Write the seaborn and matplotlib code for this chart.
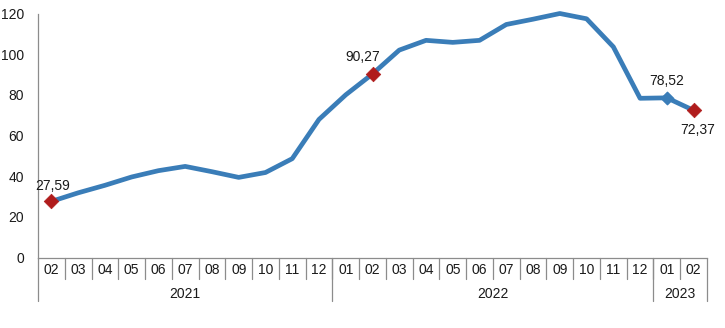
import matplotlib
matplotlib.use("Agg")
import matplotlib.pyplot as plt
import seaborn as sns
import pandas as pd
import numpy as np

months = ["02", "03", "04", "05", "06", "07", "08", "09", "10", "11", "12",
          "01", "02", "03", "04", "05", "06", "07", "08", "09", "10", "11", "12",
          "01", "02"]
years = ["2021"] * 11 + ["2022"] * 12 + ["2023"] * 2
values = [27.59, 31.8, 35.5, 39.6, 42.7, 44.8, 42.2, 39.4, 41.8, 48.6, 67.9,
          80.0, 90.27, 102.0, 106.8, 105.8, 106.8, 114.6, 117.2, 120.0, 117.4, 103.6, 78.3,
          78.52, 72.37]
labelled = {0: "27,59", 12: "90,27", 23: "78,52", 24: "72,37"}

df = pd.DataFrame({"idx": np.arange(len(values)), "value": values,
                   "month": months, "year": years})

sns.set_style("white")
plt.rcParams["font.family"] = ["Liberation Sans", "DejaVu Sans"]

fig = plt.figure(figsize=(7.25, 3.28), dpi=100)
ax = fig.add_axes([38 / 725, (328 - 257.5) / 328, (707 - 38) / 725, 244 / 328])

line_col = "#3A7DB8"
red = "#B01C1C"
grey = "#8C8C8C"
fs = 10

sns.lineplot(data=df, x="idx", y="value", ax=ax, color=line_col, linewidth=3.4,
             clip_on=False)

red_idx = [0, 12, 24]
ax.scatter(df["idx"].iloc[red_idx], df["value"].iloc[red_idx], marker="D", s=55,
           color=red, zorder=5, clip_on=False, edgecolors=red, linewidths=0.5)
ax.scatter([df["idx"].iloc[23]], [df["value"].iloc[23]], marker="D", s=40,
           color=line_col, zorder=5, clip_on=False)

offsets = {0: (1, 11), 12: (-7, 12), 23: (0, 12), 24: (3, -14)}
for i, txt in labelled.items():
    dx, dy = offsets[i]
    ax.annotate(txt, (df["idx"].iloc[i], df["value"].iloc[i]), xytext=(dx, dy),
                textcoords="offset points", ha="center", va="center",
                fontsize=fs, color="#1a1a1a")

ax.set_xlim(-0.5, len(values) - 0.5)
ax.set_ylim(0, 120)
ax.set_yticks(np.arange(0, 121, 20))
ax.set_yticklabels([str(v) for v in range(0, 121, 20)], fontsize=fs, color="#1a1a1a")
ax.tick_params(axis="y", length=4, width=0.8, color=grey, pad=6, direction="out")
ax.set_xticks([])
ax.set_xlabel("")
ax.set_ylabel("")

for s in ["top", "right"]:
    ax.spines[s].set_visible(False)
for s in ["left", "bottom"]:
    ax.spines[s].set_color(grey)
    ax.spines[s].set_linewidth(0.9)

trans = ax.get_xaxis_transform()
px = 1 / 244.0
for i in range(1, len(values)):
    ax.plot([i - 0.5, i - 0.5], [0, -21 * px], transform=trans, color=grey,
            lw=0.9, clip_on=False)
bounds = [-0.5]
for i in range(1, len(years)):
    if years[i] != years[i - 1]:
        bounds.append(i - 0.5)
bounds.append(len(values) - 0.5)
for b in bounds:
    ax.plot([b, b], [0, -43 * px], transform=trans, color=grey, lw=0.9,
            clip_on=False)

for i, m in enumerate(months):
    ax.text(i, -13 * px, m, transform=trans, ha="center", va="center",
            fontsize=fs, color="#1a1a1a")
for a, b in zip(bounds[:-1], bounds[1:]):
    mid = (a + b) / 2
    ax.text(mid, -36 * px, years[int(a + 0.5)], transform=trans, ha="center",
            va="center", fontsize=fs, color="#1a1a1a")

fig.savefig("out.png", dpi=100)
